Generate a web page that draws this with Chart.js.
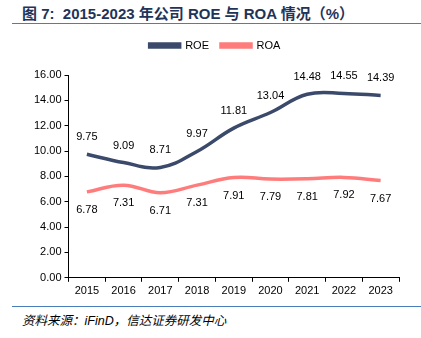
<!DOCTYPE html>
<html>
<head>
<meta charset="utf-8">
<script src="https://cdn.jsdelivr.net/npm/chart.js@4"></script>
<style>
body { margin: 0; width: 421px; height: 338px; background: #fff; position: relative; overflow: hidden; font-family: "Liberation Sans", Arial, sans-serif; }
#title { position: absolute; left: 22px; top: 2px; font-size: 15px; font-weight: bold; color: #1f3458; font-family: "Liberation Sans", "Noto Sans CJK SC", sans-serif; white-space: nowrap; }
.rule { position: absolute; left: 12px; right: 0; height: 1px; background: #4a7ebb; }
#src { position: absolute; left: 22px; top: 310px; font-size: 12.5px; font-style: italic; color: #000; font-family: "Liberation Sans", "Noto Sans CJK SC", sans-serif; }
#wrap { position: absolute; left: 0; top: 28px; width: 421px; height: 276px; }
</style>
</head>
<body>
<div id="title">图 7:&nbsp; 2015-2023 年公司 ROE 与 ROA 情况（%）</div>
<div class="rule" style="top:23px"></div>
<div id="wrap"><canvas id="chart"></canvas></div>
<div class="rule" style="top:306px"></div>
<div id="src">资料来源：iFinD，信达证券研发中心</div>
<script>
// 年份和两条序列
const years = ['2015', '2016', '2017', '2018', '2019', '2020', '2021', '2022', '2023'];
const roe = [9.75, 9.09, 8.71, 9.97, 11.81, 13.04, 14.48, 14.55, 14.39];
const roa = [6.78, 7.31, 6.71, 7.31, 7.91, 7.79, 7.81, 7.92, 7.67];

// 数据标签：ROE 在线上方，ROA 在线下方
const valueLabels = {
    id: 'valueLabels',
    afterDatasetsDraw(chart) {
        const ctx = chart.ctx;
        ctx.save();
        ctx.font = '11px "Liberation Sans", Arial, sans-serif';
        ctx.fillStyle = '#000';
        ctx.textAlign = 'center';
        ctx.textBaseline = 'middle';
        chart.data.datasets.forEach((ds, i) => {
            const offset = i === 0 ? -17 : 18;
            chart.getDatasetMeta(i).data.forEach((pt, j) => {
                ctx.fillText(ds.data[j].toFixed(2), pt.x, pt.y + offset);
            });
        });
        ctx.restore();
    }
};

// 图例下方多留一点空
const legendGap = {
    id: 'legendGap',
    beforeInit(chart) {
        const fit = chart.legend.fit;
        chart.legend.fit = function () {
            fit.bind(chart.legend)();
            this.height += 14;
        };
    }
};

const ctx = document.getElementById('chart').getContext('2d');
new Chart(ctx, {
    type: 'line',
    data: {
        labels: years,
        datasets: [
            { label: 'ROE', data: roe, borderColor: '#3b4a6b', backgroundColor: '#3b4a6b', borderWidth: 3.5, tension: 0.4, pointRadius: 0 },
            { label: 'ROA', data: roa, borderColor: '#ff7c7c', backgroundColor: '#ff7c7c', borderWidth: 3.5, tension: 0.4, pointRadius: 0 }
        ]
    },
    options: {
        responsive: true,
        maintainAspectRatio: false,
        animation: false,
        layout: { padding: { left: 31, right: 22, top: 0, bottom: 3 } },
        plugins: {
            legend: {
                labels: { boxWidth: 30, boxHeight: 3, color: '#000', font: { size: 11, family: '"Liberation Sans", Arial, sans-serif' }, padding: 12 }
            },
            tooltip: { enabled: false }
        },
        scales: {
            x: {
                offset: true,
                grid: { offset: true, drawOnChartArea: false, tickLength: 4, color: '#000' },
                border: { color: '#000' },
                ticks: { color: '#000', font: { size: 11, family: '"Liberation Sans", Arial, sans-serif' }, maxRotation: 0 }
            },
            y: {
                min: 0,
                max: 16,
                grid: { drawOnChartArea: false, tickLength: 4, color: '#000' },
                border: { color: '#000' },
                ticks: { stepSize: 2, color: '#000', font: { size: 11, family: '"Liberation Sans", Arial, sans-serif' }, callback: v => v.toFixed(2) }
            }
        }
    },
    plugins: [valueLabels, legendGap]
});
</script>
</body>
</html>
